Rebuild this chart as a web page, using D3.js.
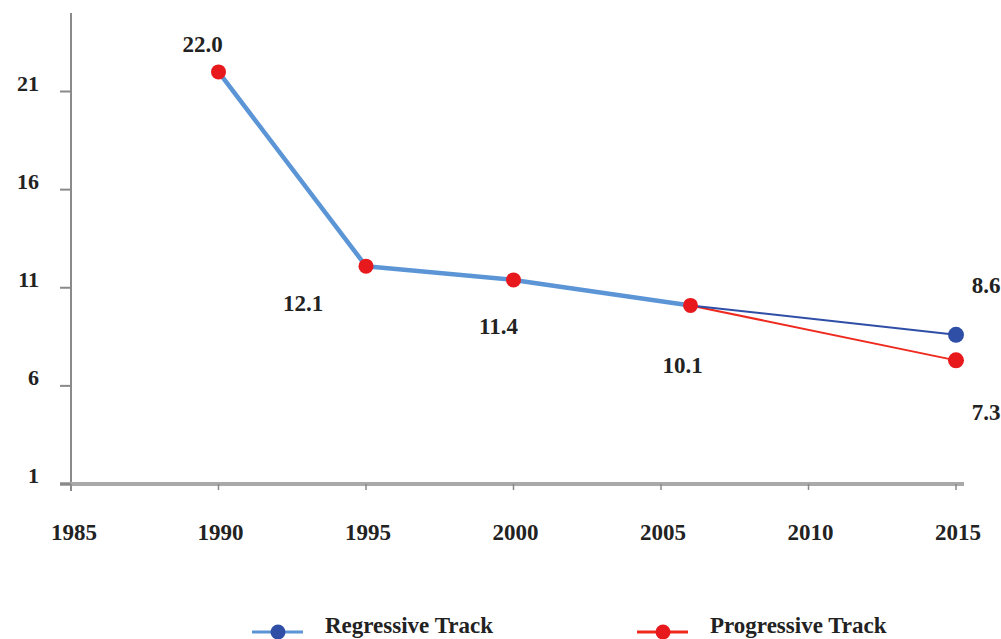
<!DOCTYPE html>
<html><head><meta charset="utf-8">
<script src="https://cdn.jsdelivr.net/npm/d3@7"></script>
<style>body{margin:0;background:#fff}svg{display:block}text{font-family:"Liberation Serif","DejaVu Serif",serif;font-weight:bold;fill:#222}</style>
</head><body>
<script>
// Data
const years = [1990, 1995, 2000, 2006];
const sharedValues = [22.0, 12.1, 11.4, 10.1];
const endYear = 2015;
const regressiveEnd = 8.6;
const progressiveEnd = 7.3;
const xTicks = [1985, 1990, 1995, 2000, 2005, 2010, 2015];
const yTicks = [1, 6, 11, 16, 21];
const seriesNames = ["Regressive Track", "Progressive Track"];
// label layout offsets (dx, dy) from each point
const labelOffsets = [[-16, -28], [-63, 37], [-15, 46], [-8, 60]];

const W = 1001, H = 639;
const svg = d3.select("body").append("svg").attr("width", W).attr("height", H);
const x = d3.scaleLinear().domain([1985, 2015]).range([71, 956]);
const y = d3.scaleLinear().domain([1, 25]).range([484, 13]);

const cLight = "#5b95d6", cDark = "#2f4ea6", cRed = "#ee2a1f", cRedMark = "#e8191c";

// axes
svg.append("line").attr("x1", 71).attr("x2", 71).attr("y1", y(25)).attr("y2", 491)
  .attr("stroke", "#8a8a8a").attr("stroke-width", 2);
svg.append("line").attr("x1", 60).attr("x2", 964).attr("y1", 484).attr("y2", 484)
  .attr("stroke", "#a9a9a9").attr("stroke-width", 4);
svg.selectAll(".yt").data(yTicks).enter().append("line")
  .attr("x1", 60).attr("x2", 71).attr("y1", d => y(d)).attr("y2", d => y(d))
  .attr("stroke", "#8a8a8a").attr("stroke-width", 2);
svg.selectAll(".ytl").data(yTicks).enter().append("text")
  .attr("x", 39).attr("y", d => y(d) - 1).attr("text-anchor", "end")
  .attr("font-size", 22).text(d => d);
svg.selectAll(".xt").data(xTicks).enter().append("line")
  .attr("x1", d => x(d)).attr("x2", d => x(d)).attr("y1", 484).attr("y2", 490)
  .attr("stroke", "#8a8a8a").attr("stroke-width", 1.5);
svg.selectAll(".xtl").data(xTicks).enter().append("text")
  .attr("x", d => x(d) + (d === 1985 ? 3 : 2)).attr("y", 540).attr("text-anchor", "middle")
  .attr("font-size", 23).text(d => d);

const line = d3.line().x(d => x(d[0])).y(d => y(d[1]));
const shared = years.map((yr, i) => [yr, sharedValues[i]]);
const last = shared[shared.length - 1];

svg.append("path").attr("d", line(shared)).attr("fill", "none")
  .attr("stroke", cLight).attr("stroke-width", 4.5).attr("stroke-linejoin", "round");
svg.append("path").attr("d", line([last, [endYear, progressiveEnd]])).attr("fill", "none")
  .attr("stroke", cRed).attr("stroke-width", 2);
svg.append("path").attr("d", line([last, [endYear, regressiveEnd]])).attr("fill", "none")
  .attr("stroke", cDark).attr("stroke-width", 2);

svg.selectAll(".pt").data(shared).enter().append("circle")
  .attr("cx", d => x(d[0])).attr("cy", d => y(d[1])).attr("r", 7.5).attr("fill", cRedMark);
svg.append("circle").attr("cx", x(endYear)).attr("cy", y(regressiveEnd)).attr("r", 8).attr("fill", cDark);
svg.append("circle").attr("cx", x(endYear)).attr("cy", y(progressiveEnd)).attr("r", 8).attr("fill", cRedMark);

svg.selectAll(".vl").data(shared).enter().append("text")
  .attr("x", (d, i) => x(d[0]) + labelOffsets[i][0])
  .attr("y", (d, i) => y(d[1]) + labelOffsets[i][1] + 8)
  .attr("text-anchor", "middle").attr("font-size", 23).text(d => d[1].toFixed(1));
svg.append("text").attr("x", x(endYear) + 30).attr("y", y(regressiveEnd) - 50 + 8)
  .attr("text-anchor", "middle").attr("font-size", 23).text(regressiveEnd.toFixed(1));
svg.append("text").attr("x", x(endYear) + 30).attr("y", y(progressiveEnd) + 52 + 8)
  .attr("text-anchor", "middle").attr("font-size", 23).text(progressiveEnd.toFixed(1));

// legend
const legend = [
  {name: seriesNames[0], line: cLight, mark: cDark, x0: 252},
  {name: seriesNames[1], line: cRed, mark: cRedMark, x0: 637}
];
const lg = svg.selectAll(".lg").data(legend).enter().append("g");
lg.append("line").attr("x1", d => d.x0).attr("x2", d => d.x0 + 51).attr("y1", 632).attr("y2", 632)
  .attr("stroke", d => d.line).attr("stroke-width", 3);
lg.append("circle").attr("cx", d => d.x0 + 26).attr("cy", 632).attr("r", 7.5).attr("fill", d => d.mark);
lg.append("text").attr("x", d => d.x0 + 73).attr("y", 633).attr("font-size", 23).text(d => d.name);
</script>
</body></html>
